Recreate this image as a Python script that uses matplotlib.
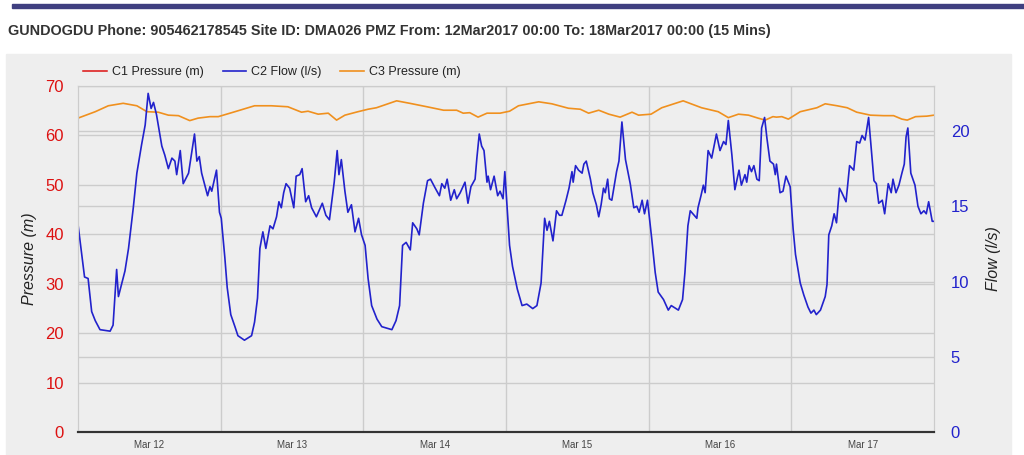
import matplotlib.pyplot as plt
from matplotlib.patches import Rectangle

plt.rcParams['font.family'] = ['Liberation Sans', 'DejaVu Sans']

title = "GUNDOGDU Phone: 905462178545 Site ID: DMA026 PMZ From: 12Mar2017 00:00 To: 18Mar2017 00:00 (15 Mins)"
day_labels = ["Mar 12", "Mar 13", "Mar 14", "Mar 15", "Mar 16", "Mar 17"]

# hours since 12Mar2017 00:00, flow in l/s
flow_hours = [0.0, 1.1, 1.7, 2.3, 2.9, 3.7, 5.4, 5.9, 6.5, 6.8, 7.9, 8.5, 9.3, 9.9, 10.7, 11.3, 11.8, 12.3, 12.7, 13.2,
              14.1, 14.6, 15.2, 15.8, 16.3, 16.6, 17.2, 17.7, 18.6, 19.6, 20.0, 20.4, 20.8, 21.8, 22.2, 22.5, 23.3, 23.8,
              24.1, 24.7, 25.1, 25.7, 26.4, 26.9, 28.0, 29.2, 29.7, 30.2, 30.6, 31.1, 31.6, 32.3, 32.8, 33.4, 33.8, 34.2,
              34.6, 35.0, 35.6, 36.3, 36.7, 37.3, 37.7, 38.3, 38.8, 39.3, 40.1, 41.1, 41.7, 42.3, 43.1, 43.6, 43.9, 44.3,
              44.9, 45.4, 46.0, 46.6, 47.2, 47.7, 48.3, 48.8, 49.4, 50.3, 51.1, 52.8, 53.5, 54.1, 54.6, 55.2, 55.9, 56.3,
              57.0, 57.4, 58.1, 58.8, 59.3, 60.1, 60.8, 61.2, 61.7, 62.1, 62.7, 63.3, 63.7, 64.3, 65.1, 65.6, 66.1, 66.8,
              67.1, 67.5, 67.9, 68.3, 68.8, 69.0, 69.4, 70.0, 70.6, 71.0, 71.5, 71.8, 72.6, 73.1, 73.9, 74.7, 75.5, 76.5,
              77.2, 77.9, 78.5, 78.9, 79.3, 79.9, 80.5, 81.0, 81.4, 82.1, 82.6, 83.1, 83.3, 83.7, 84.2, 84.8, 85.1, 85.5,
              86.2, 86.6, 87.2, 87.6, 88.0, 88.4, 88.7, 89.1, 89.4, 89.8, 90.6, 91.0, 91.5, 92.1, 92.9, 93.5, 94.0, 94.4,
              94.9, 95.3, 95.8, 96.5, 97.1, 97.6, 98.5, 99.3, 99.8, 101.0, 101.7, 102.1, 102.6, 103.0, 104.1, 104.3, 104.8,
              105.2, 105.5, 106.0, 106.6, 107.0, 107.4, 108.0, 108.6, 109.0, 109.4, 110.0, 110.5, 111.2, 111.6, 112.2,
              112.5, 112.9, 113.3, 113.7, 114.2, 114.6, 115.0, 115.5, 115.9, 116.4, 117.0, 117.3, 117.5, 118.1, 118.6,
              119.1, 119.8, 120.3, 120.7, 121.5, 122.1, 122.8, 123.3, 123.8, 124.2, 124.9, 125.7, 126.0, 126.3, 126.8,
              127.2, 127.6, 128.1, 128.5, 129.2, 129.8, 130.5, 131.0, 131.5, 131.9, 132.4, 133.0, 133.9, 134.3, 134.7,
              135.3, 135.7, 136.3, 136.8, 137.1, 137.6, 138.1, 138.6, 139.0, 139.3, 139.6, 140.1, 140.8, 141.3, 141.8,
              142.3, 142.7, 143.1, 143.7, 144.0]
flow_vals = [13.8, 10.3, 10.2, 8.0, 7.4, 6.8, 6.7, 7.1, 10.8, 9.0, 10.7, 12.2, 14.9, 17.2, 19.1, 20.4, 22.5, 21.5, 21.9, 21.1,
             19.0, 18.4, 17.5, 18.2, 18.0, 17.1, 18.7, 16.5, 17.2, 19.8, 18.0, 18.3, 17.2, 15.7, 16.3, 16.0, 17.4, 14.6,
             14.2, 11.6, 9.6, 7.8, 7.0, 6.4, 6.1, 6.4, 7.3, 8.9, 12.2, 13.3, 12.2, 13.7, 13.5, 14.3, 15.3, 14.9,
             15.9, 16.5, 16.2, 14.9, 17.0, 17.1, 17.5, 15.3, 15.7, 14.9, 14.3, 15.2, 14.4, 14.1, 16.6, 18.7, 17.1, 18.1,
             16.0, 14.6, 15.1, 13.3, 14.2, 13.1, 12.4, 10.2, 8.4, 7.5, 7.0, 6.8, 7.4, 8.4, 12.4, 12.6, 12.1, 13.9,
             13.5, 13.1, 15.2, 16.7, 16.8, 16.2, 15.7, 16.5, 16.2, 16.8, 15.4, 16.1, 15.5, 15.9, 16.6, 15.2, 16.3, 16.8,
             18.2, 19.8, 19.0, 18.7, 16.6, 17.0, 16.1, 17.0, 15.7, 16.0, 15.5, 17.3, 12.4, 11.0, 9.5, 8.4, 8.5, 8.2,
             8.4, 9.9, 14.2, 13.4, 14.0, 12.7, 14.7, 14.4, 14.4, 15.4, 16.2, 17.3, 16.6, 17.7, 17.4, 17.2, 17.8, 18.0,
             16.8, 15.9, 15.1, 14.3, 15.1, 16.2, 15.9, 16.8, 15.5, 15.4, 17.3, 18.0, 20.6, 18.1, 16.5, 14.9, 15.0, 14.6,
             15.4, 14.5, 15.4, 12.9, 10.6, 9.3, 8.8, 8.1, 8.4, 8.1, 8.8, 10.6, 13.7, 14.7, 14.2, 14.9, 15.7,
             16.4, 15.9, 18.7, 18.2, 19.0, 19.8, 18.7, 19.3, 19.1, 20.7, 18.4, 16.1, 17.4, 16.4, 17.1,
             16.6, 17.7, 17.3, 17.7, 16.8, 16.7, 20.2, 20.9, 19.5, 18.0, 17.8, 17.1, 17.8, 15.9, 16.0,
             17.0, 16.3, 13.5, 11.8, 9.9, 9.1, 8.3, 7.9, 8.1, 7.8, 8.1, 9.0, 9.8, 13.1, 13.7,
             14.5, 13.9, 16.2, 15.9, 15.3, 17.7, 17.4, 19.3, 19.2, 19.7, 19.4, 20.9, 16.7, 16.5, 15.2,
             15.4, 14.5, 16.5, 15.9, 16.8, 15.9, 16.4, 17.2, 17.8, 19.6, 20.2, 17.2, 16.4, 15.0, 14.5,
             14.7, 14.5, 15.3, 14.0, 14.0]

# hours since start, C3 pressure in m
p3_hours = [0.0, 2.9, 5.1, 7.6, 9.9, 11.6, 13.5, 15.2, 16.9, 18.8, 20.2, 22.2, 23.6, 26.4, 29.7, 32.5, 35.3, 37.6, 38.7,
            40.4, 42.1, 43.5, 44.9, 47.1, 48.8, 50.2, 53.6, 55.8, 58.7, 61.5, 63.7, 64.8, 65.9, 67.3, 68.8, 71.0, 72.6,
            74.1, 77.5, 79.7, 82.5, 84.5, 85.9, 87.6, 89.3, 91.2, 93.2, 94.3, 96.4, 98.2, 101.8, 104.9, 107.7, 109.4,
            111.1, 112.8, 114.4, 115.6, 116.9, 117.5, 118.4, 119.5, 121.5, 124.3, 125.7, 127.7, 129.4, 131.0, 133.3,
            135.5, 137.2, 138.6, 139.5, 140.9, 142.8, 144.0]
p3_vals = [63.5, 64.8, 66.0, 66.5, 66.0, 64.8, 64.7, 64.1, 64.0, 63.0, 63.5, 63.8, 63.8, 64.8, 66.0, 66.0, 65.8, 64.7, 64.9,
           64.3, 64.5, 63.1, 64.1, 64.8, 65.3, 65.6, 67.0, 66.5, 65.8, 65.1, 65.1, 64.5, 64.6, 63.7, 64.5, 64.5, 64.9,
           66.0, 66.8, 66.4, 65.5, 65.3, 64.5, 65.1, 64.3, 63.7, 64.7, 64.1, 64.3, 65.6, 67.0, 65.6, 64.8, 63.6,
           64.3, 64.1, 63.5, 63.1, 63.8, 63.7, 63.8, 63.3, 64.8, 65.6, 66.4, 66.0, 65.6, 64.7, 64.1,
           64.0, 64.0, 63.3, 63.1, 63.8, 63.9, 64.1]

# C1 pressure has no readings in this period
p1_hours = []
p1_vals = []

RED = '#dd1111'
BLUE = '#2222cc'
ORANGE = '#f0901e'
BG = '#eeeeee'

fig = plt.figure(figsize=(10.24, 4.55), dpi=100)
fig.patches.append(Rectangle((12 / 1024, 1 - 8 / 455), 1 - 12 / 1024, 4 / 455, transform=fig.transFigure,
                             color='#3f3f80', zorder=-5))
fig.patches.append(Rectangle((6 / 1024, 0), 1005 / 1024, 1 - 54 / 455, transform=fig.transFigure,
                             color=BG, zorder=-5))
fig.text(8 / 1024, 1 - 31 / 455, title, fontsize=10.4, fontweight='bold', color='#333333', va='center')

ax = fig.add_axes([78 / 1024, 23 / 455, 856 / 1024, 346 / 455])
ax.set_facecolor(BG)
ax2 = ax.twinx()

l1, = ax.plot(p1_hours, p1_vals, color=RED, lw=1.1)
l3, = ax.plot(p3_hours, p3_vals, color=ORANGE, lw=1.2)
l2, = ax2.plot(flow_hours, flow_vals, color=BLUE, lw=1.2)

ax.set_xlim(0, 144)
ax.set_ylim(0, 70)
ax2.set_ylim(0, 70 * 4.943 / 15.05)

ax.set_yticks(range(0, 71, 10))
ax2.set_yticks(range(0, 21, 5))
ax.set_xticks([12 + 24 * i for i in range(6)])
ax.set_xticklabels(day_labels)
ax.set_xticks([24 * i for i in range(1, 6)], minor=True)

ax.grid(axis='y', color='#cccccc', lw=1)
ax.grid(axis='x', which='minor', color='#cccccc', lw=1)
ax2.grid(axis='y', color='#cccccc', lw=1)
ax.set_axisbelow(True)
ax2.set_axisbelow(True)

ax.tick_params(axis='y', length=0, colors=RED, labelsize=12, pad=10)
ax2.tick_params(axis='y', length=0, colors=BLUE, labelsize=12, pad=12)
ax.tick_params(axis='x', which='both', length=0, labelsize=7, labelcolor='#444444', pad=6)

for a in (ax, ax2):
    for s in ('left', 'right', 'top'):
        a.spines[s].set_color('#cccccc')
    a.spines['bottom'].set_color('#333333')
    a.spines['bottom'].set_linewidth(1.5)

ax.set_ylabel('Pressure (m)', fontsize=11.5, style='italic', color='#222222', labelpad=6)
ax2.set_ylabel('Flow (l/s)', fontsize=11.5, style='italic', color='#222222', labelpad=12)

fig.legend([l1, l2, l3], ['C1 Pressure (m)', 'C2 Flow (l/s)', 'C3 Pressure (m)'],
           loc='center left', bbox_to_anchor=(72 / 1024, 1 - 72 / 455), ncol=3, frameon=False,
           fontsize=9, handlelength=1.9, handletextpad=0.4, columnspacing=1.5, labelcolor='#222222')

fig.savefig('out.png', dpi=100)
